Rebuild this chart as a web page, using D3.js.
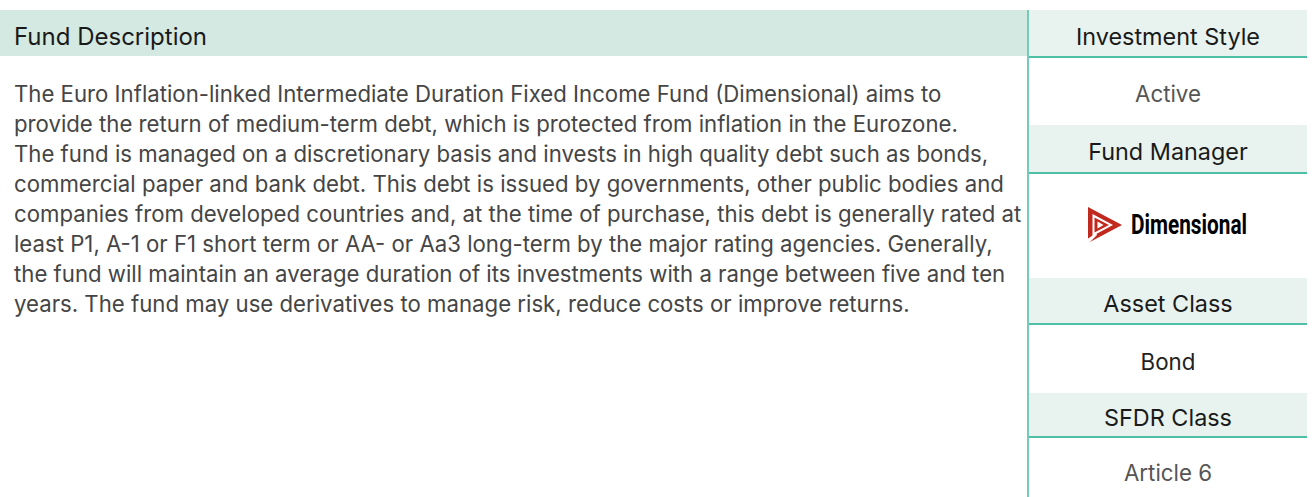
<!DOCTYPE html>
<html><head><meta charset="utf-8">
<script src="https://cdn.jsdelivr.net/npm/d3@7"></script>
<style>body{margin:0;background:#fff}svg{display:block}</style>
</head><body><svg id="c" width="1313" height="497"></svg>
<script>
const descTitle = "Fund Description";
const descLines = [
  "The Euro Inflation-linked Intermediate Duration Fixed Income Fund (Dimensional) aims to",
  "provide the return of medium-term debt, which is protected from inflation in the Eurozone.",
  "The fund is managed on a discretionary basis and invests in high quality debt such as bonds,",
  "commercial paper and bank debt. This debt is issued by governments, other public bodies and",
  "companies from developed countries and, at the time of purchase, this debt is generally rated at",
  "least P1, A-1 or F1 short term or AA- or Aa3 long-term by the major rating agencies. Generally,",
  "the fund will maintain an average duration of its investments with a range between five and ten",
  "years. The fund may use derivatives to manage risk, reduce costs or improve returns."
];
const infoLabels = ["Investment Style", "Fund Manager", "Asset Class", "SFDR Class"];
const infoValues = ["Active", "Dimensional", "Bond", "Article 6"];

const FONT = "Inter, 'Noto Sans', sans-serif";
const svg = d3.select("#c");

// left panel
svg.append("rect").attr("x",0).attr("y",10).attr("width",1027).attr("height",46).attr("fill","#d3e9e2");
svg.append("text").attr("x",14).attr("y",44.5).text(descTitle)
  .attr("font-family",FONT).attr("font-size",24).attr("fill","#1a1a1a");
const lineY = d3.scaleLinear().domain([0,1]).range([101.7,131.7]);
svg.append("g").selectAll("text").data(descLines).join("text")
  .attr("x",14).attr("y",(d,i)=>lineY(i)).text(d=>d)
  .attr("font-family",FONT).attr("font-size",22.2).attr("fill","#454545");

// right panel
const px0 = 1029, px1 = 1307, cx = (px0+px1)/2;
const rowData = infoLabels.map((l,i)=>({
  label:l, value:infoValues[i],
  top:[10,125,278,393][i], h:[46,47,45,43][i],
  lb:[45,160,311.5,426][i], vb:[101.5,null,370,480.5][i],
  vc:["#555","#000","#222","#555"][i]
}));
svg.append("line").attr("x1",1028).attr("x2",1028).attr("y1",10).attr("y2",497)
  .attr("stroke","#74ccb8").attr("stroke-width",2);
const rows = svg.append("g").selectAll("g").data(rowData).join("g");
rows.append("rect").attr("x",px0).attr("y",d=>d.top).attr("width",px1-px0).attr("height",d=>d.h).attr("fill","#e8f3ef");
rows.append("rect").attr("x",px0).attr("y",d=>d.top+d.h).attr("width",px1-px0).attr("height",2).attr("fill","#4fbfa6");
rows.append("text").attr("x",cx).attr("y",d=>d.lb).attr("text-anchor","middle").text(d=>d.label)
  .attr("font-family",FONT).attr("font-size",23.4).attr("fill","#1a1a1a");
rows.filter(d=>d.vb!==null).append("text").attr("x",cx).attr("y",d=>d.vb).attr("text-anchor","middle")
  .text(d=>d.value).attr("font-family",FONT).attr("font-size",22.3).attr("fill",d=>d.vc);

// logo
const logo = svg.append("g");
const red = "#c1281e";
logo.append("path").attr("d","M1088,207 L1122,225 L1088,243 Z").attr("fill",red);
logo.append("path").attr("d","M1092.5,214 L1113,225 L1092.5,236 Z").attr("fill","#fff");
logo.append("path").attr("d","M1094.5,217.5 L1109,225 L1094.5,232.5 Z").attr("fill",red);
logo.append("path").attr("d","M1097.5,221.5 L1103.5,225 L1097.5,228.5 Z").attr("fill","#fff");
logo.append("path").attr("d","M1086,240 L1096,233 L1097,235 L1087,245 Z").attr("fill","#fff");
logo.append("text").attr("x",1131).attr("y",233.5).text(rowData[1].value)
  .attr("font-family","'Liberation Sans Narrow', 'Roboto', sans-serif").attr("font-weight","bold")
  .attr("font-size",27).attr("textLength",116).attr("lengthAdjust","spacingAndGlyphs").attr("fill","#000");
</script></body></html>
